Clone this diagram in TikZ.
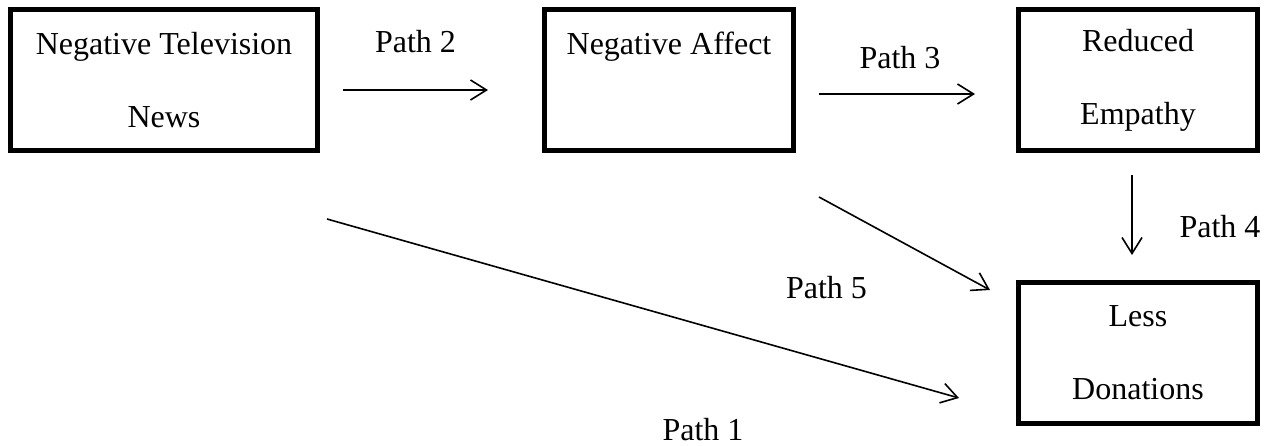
\documentclass[tikz,border=0pt]{standalone}
\usepackage{fontspec}
\setmainfont{Liberation Serif}
\usetikzlibrary{arrows.meta,positioning}
\tikzset{
	box/.style = {rectangle,draw=black,line width=5pt,fill=white,
		minimum height=141pt,align=center,inner sep=0pt,
		font=\fontsize{32}{73}\selectfont},
	arr/.style = {-{Straight Barb[length=16pt,width=20pt]},line width=1.6pt},
	lbl/.style = {font=\fontsize{32}{38}\selectfont,inner sep=0pt},
}

\begin{document}
\begin{tikzpicture}
		\useasboundingbox (0,0) rectangle (1277pt,-445pt);
		
		%% Boxes
		\node (news)    [box,minimum width=307pt] at (164pt,-80pt)
		{Negative Television\\News};
		\node (affect)  [box,minimum width=249pt,right=222pt of news]
		{Negative Affect\\\mbox{}};
		\node (empathy) [box,minimum width=239pt,right=220pt of affect]
		{Reduced\\Empathy};
		\node (donate)  [box,minimum width=239pt,below=127pt of empathy]
		{Less\\Donations};
		
		%% Paths
		\draw[arr]([shift={(23pt,-10pt)}]news.east)--([shift={(-54pt,-10pt)}]affect.west)
		node[lbl,midway,yshift=48pt]{Path 2};
		\draw[arr]([shift={(23pt,-14pt)}]affect.east)--([shift={(-41pt,-14pt)}]empathy.west)
		node[lbl,midway,shift={(3pt,36pt)}]{Path 3};
		\draw[arr]([shift={(-6pt,-22pt)}]empathy.south)--([shift={(-6pt,25pt)}]donate.north)
		node[lbl,midway,shift={(88pt,-12pt)}]{Path 4};
		\draw[arr]([shift={(23pt,-44pt)}]affect.south east)--([shift={(-26pt,-10pt)}]donate.north west)
		node[lbl,midway,shift={(-78pt,-44pt)}]{Path 5};
		\draw[arr]([shift={(7pt,-66pt)}]news.south east)--([shift={(-57pt,-45pt)}]donate.west)
		node[lbl,midway,shift={(60pt,-121pt)}]{Path 1};
	\end{tikzpicture}
\end{document}
